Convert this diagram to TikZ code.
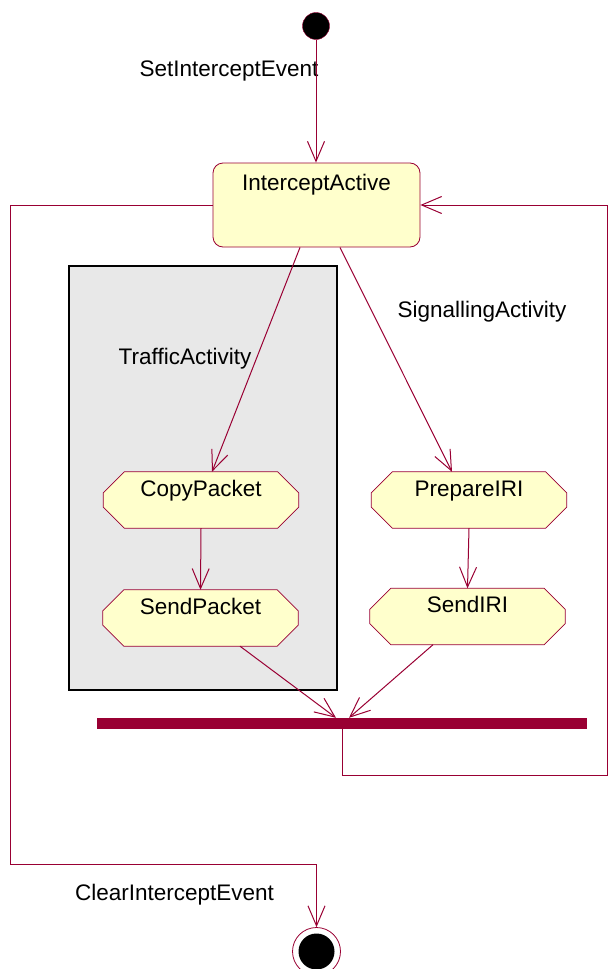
\documentclass[tikz,border=0pt]{standalone}
\usepackage{fontspec}
\setmainfont{Liberation Sans}
\usetikzlibrary{arrows.meta}

\definecolor{wine}{RGB}{153,0,51}
\definecolor{cream}{RGB}{255,255,204}
\definecolor{boxgray}{RGB}{232,232,232}

\pgfdeclarelayer{back}
\pgfdeclarelayer{mid}
\pgfsetlayers{back,mid,main}

\tikzset{
  flow/.style={draw=wine,line width=1pt,-{Straight Barb[length=20pt,width=17pt,line width=1pt]}},
  statebox/.style={draw=wine,fill=cream,line width=0.8pt,rounded corners=10pt,inner sep=0pt,
    minimum width=207pt,minimum height=84pt,text height=16pt,text depth=46pt},
  actbox/.style={inner sep=0pt,minimum width=195pt,minimum height=56pt,text height=16pt,text depth=24pt},
  octo/.style={draw=wine,fill=cream,line width=0.8pt},
  lbl/.style={inner sep=0pt}
}

\begin{document}
\begin{tikzpicture}[x=1pt,y=-1pt,every node/.style={font=\fontsize{22.5}{27}\selectfont}]
  \useasboundingbox (0,0) rectangle (608,969);

  \begin{pgfonlayer}{back}
    \node (trafficbox) at (203,478) [draw=black,fill=boxgray,line width=1.6pt,
      minimum width=268pt,minimum height=424pt] {};
  \end{pgfonlayer}
  \node[lbl] (traffic) at (185,359) {TrafficActivity};
  \node[lbl] (signalling) at (482,312) {SignallingActivity};

  \node (start) at (316,26) [circle,draw=wine,fill=black,minimum size=27pt,inner sep=0pt] {};
  \node[lbl] (setev) at (229,71) {SetInterceptEvent};
  \node[statebox] (active) at (316.5,205) {InterceptActive};

  \node[actbox] (copy) at (201,500) {CopyPacket};
  \node[actbox] (sendp) at (200.5,618) {SendPacket};
  \node[actbox] (prep) at (469,500) {PrepareIRI};
  \node[actbox] (sendiri) at (467.5,616.5) {SendIRI};

  % octagon outlines of the activities
  \begin{pgfonlayer}{mid}
    \foreach \n in {copy,sendp,prep,sendiri}
      \filldraw[octo] ([xshift=21pt]\n.north west) -- ([xshift=-21pt]\n.north east)
        -- ([yshift=-21pt]\n.north east) -- ([yshift=21pt]\n.south east)
        -- ([xshift=-21pt]\n.south east) -- ([xshift=21pt]\n.south west)
        -- ([yshift=21pt]\n.south west) -- ([yshift=-21pt]\n.north west) -- cycle;
  \end{pgfonlayer}

  \node (bar) at (342,723.5) [fill=wine,minimum width=490pt,minimum height=11pt,inner sep=0pt] {};

  \node[lbl] (clearev) at (174.5,895) {ClearInterceptEvent};
  \node (final) at (316.5,951.5) [circle,draw=wine,line width=0.8pt,fill=white,minimum size=48pt,inner sep=0pt] {};
  \fill (final) circle[radius=18];

  \coordinate (ll) at (10,864);
  \coordinate (rr) at (607,775);

  \draw[flow] (start) -- (start |- active.north);
  \draw[flow] ([xshift=-16.5pt]active.south) -- ([xshift=11pt]copy.north);
  \draw[flow] ([xshift=23.5pt]active.south) -- ([xshift=-17pt]prep.north);
  \draw[flow] (copy.south) -- (sendp.north);
  \draw[flow] (prep.south) -- (sendiri.north);
  \draw[flow] ([xshift=39.5pt]sendp.south) -- ([xshift=-6pt]bar.north);
  \draw[flow] ([xshift=-34.5pt]sendiri.south) -- ([xshift=7pt]bar.north);
  \draw[flow] (active.west) -| (ll) -| (final.north);
  \draw[flow] (bar.south) |- (rr) |- (active.east);
\end{tikzpicture}
\end{document}
